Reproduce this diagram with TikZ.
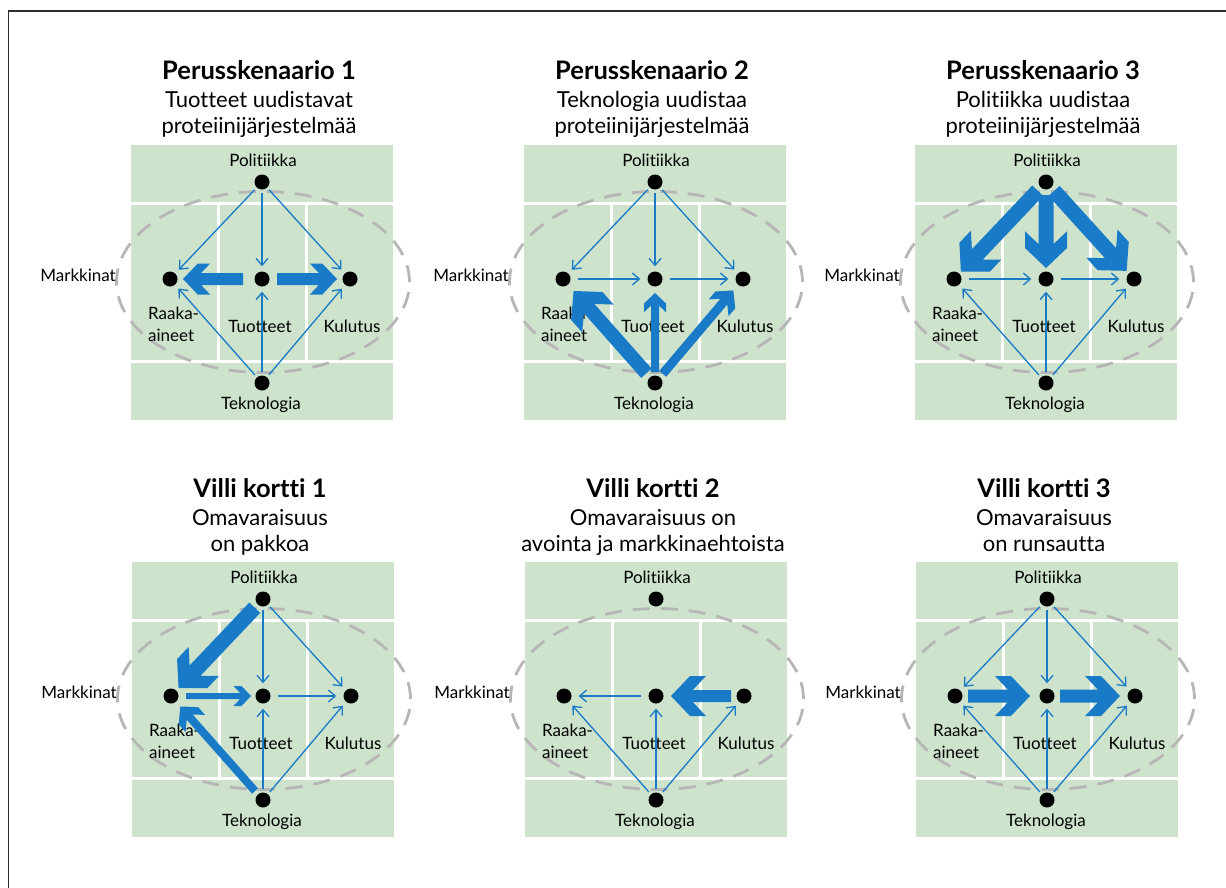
\documentclass[tikz,border=0pt]{standalone}
\usepackage{fontspec}
\setmainfont{Lato}[Ligatures={NoCommon}]
\usetikzlibrary{calc,arrows.meta}

\definecolor{paneltint}{RGB}{205,227,204}
\definecolor{flowblue}{RGB}{25,122,200}
\definecolor{ringgrey}{RGB}{182,182,182}
\definecolor{framegrey}{RGB}{45,45,45}

\tikzset{
  dot/.style={circle, fill=black, minimum size=15pt, inner sep=0pt},
  lbl/.style={font=\fontsize{17}{20}\selectfont, inner sep=0pt, anchor=base},
  ttl/.style={font=\fontsize{25.5}{30}\selectfont\bfseries, inner sep=0pt, anchor=base},
  sub/.style={font=\fontsize{22}{26}\selectfont, inner sep=0pt, anchor=base},
  flow/.style={draw=flowblue, line width=1.3pt, -{Straight Barb[length=7pt,width=12pt]},
    shorten <=3pt, shorten >=5pt},
  flowh/.style={flow, shorten <=7pt, shorten >=7pt},
  fatflow/.style={fill=flowblue},
  ring/.style={draw=ringgrey, line width=2.8pt, dash pattern=on 17pt off 11pt},
  divider/.style={draw=white, line width=3pt},
  frame/.style={draw=framegrey, line width=1.5pt},
}

% one scenario panel: #1 name prefix, #2/#3 top-left corner of the green field,
% #4 heading, #5/#6 the two lines below it
\newcommand\scenpanel[6]{%
  \fill[paneltint] (#2,#3) rectangle ++(262,275);
  \draw[divider] (#2,#3+58.5) -- ++(262,0);
  \draw[divider] (#2,#3+216.5) -- ++(262,0);
  \draw[divider] (#2+87.5,#3+58.5) -- (#2+87.5,#3+216.5);
  \draw[divider] (#2+175.5,#3+58.5) -- (#2+175.5,#3+216.5);
  \draw[ring] (#2+132,#3+137) ellipse [x radius=146.5pt, y radius=90.5pt];
  \node[ttl] (#1-title) at (#2+128,#3-65) {#4};
  \node[sub] (#1-sub1) at (#2+128,#3-37) {#5};
  \node[sub] (#1-sub2) at (#2+128,#3-11) {#6};
  \node[lbl] (#1-lpol) at (#2+132,#3+21) {Politiikka};
  \node[lbl] (#1-ltek) at (#2+130,#3+264) {Teknologia};
  \node[lbl, anchor=base east] (#1-lmar) at (#2-15,#3+136) {Markkinat};
  \node[lbl, anchor=base west] (#1-lraa) at (#2+17,#3+174) {Raaka-};
  \node[lbl, anchor=base west] (#1-lain) at (#2+17,#3+196) {aineet};
  \node[lbl] (#1-ltuo) at (#2+129,#3+187) {Tuotteet};
  \node[lbl] (#1-lkul) at (#2+221,#3+187) {Kulutus};
  \node[dot] (#1-pol) at (#2+131,#3+37) {};
  \node[dot] (#1-raa) at (#2+39,#3+134) {};
  \node[dot] (#1-tuo) at (#2+131,#3+134) {};
  \node[dot] (#1-kul) at (#2+219,#3+134) {};
  \node[dot] (#1-tek) at (#2+131,#3+238) {};
}

% broad arrow with a chevron head: #1 from, #2 to, #3/#4 gaps at both ends,
% #5 half width of the shaft, #6 half width of the head
\newcommand\fatflow[6]{%
  \pgfmathsetmacro\fhA{0.95*#6}%
  \pgfmathsetmacro\fhB{1.75*#6}%
  \pgfmathsetmacro\fhN{1.75*#6-0.95*(#6-#5)}%
  \path ($(#1.center)!#3pt!(#2.center)$) coordinate (fa-s)
        ($(#2.center)!#4pt!(#1.center)$) coordinate (fa-t);
  \fill[fatflow] ($(fa-s)!{#5pt}!90:(fa-t)$)
    -- ($(fa-t)!{\fhN pt}!(fa-s)!{#5pt}!90:(fa-t)$)
    -- ($(fa-t)!{\fhB pt}!(fa-s)!{#6pt}!90:(fa-t)$)
    -- ($(fa-t)!{\fhA pt}!(fa-s)!{#6pt}!90:(fa-t)$)
    -- (fa-t)
    -- ($(fa-t)!{\fhA pt}!(fa-s)!{#6pt}!-90:(fa-t)$)
    -- ($(fa-t)!{\fhB pt}!(fa-s)!{#6pt}!-90:(fa-t)$)
    -- ($(fa-t)!{\fhN pt}!(fa-s)!{#5pt}!-90:(fa-t)$)
    -- ($(fa-s)!{#5pt}!-90:(fa-t)$) -- cycle;
}

\begin{document}
\begin{tikzpicture}[x=1pt,y=-1pt]
\useasboundingbox (0,0) rectangle (1226,888);
\draw[frame] (8.5,888) -- (8.5,11) -- (1226,11);

% ---------- upper row ----------
\scenpanel{a}{131}{145}{Perusskenaario 1}{Tuotteet uudistavat}{proteiinijärjestelmää}
\draw[flow] (a-pol) -- (a-raa);
\draw[flow] (a-pol) -- (a-tuo);
\draw[flow] (a-pol) -- (a-kul);
\draw[flow] (a-tek) -- (a-raa);
\draw[flow] (a-tek) -- (a-tuo);
\draw[flow] (a-tek) -- (a-kul);
\fatflow{a-tuo}{a-raa}{19}{13}{6}{15.5}
\fatflow{a-tuo}{a-kul}{15}{13}{6}{15.5}

\scenpanel{b}{524}{145}{Perusskenaario 2}{Teknologia uudistaa}{proteiinijärjestelmää}
\draw[flow] (b-pol) -- (b-raa);
\draw[flow] (b-pol) -- (b-tuo);
\draw[flow] (b-pol) -- (b-kul);
\draw[flowh] (b-raa) -- (b-tuo);
\draw[flowh] (b-tuo) -- (b-kul);
\fatflow{b-tek}{b-raa}{13}{16}{7}{21}
\fatflow{b-tek}{b-tuo}{11}{14}{4}{11}
\fatflow{b-tek}{b-kul}{12}{15}{4.5}{13}

\scenpanel{c}{915}{145}{Perusskenaario 3}{Politiikka uudistaa}{proteiinijärjestelmää}
\draw[flowh] (c-raa) -- (c-tuo);
\draw[flowh] (c-tuo) -- (c-kul);
\draw[flow] (c-tek) -- (c-raa);
\draw[flow] (c-tek) -- (c-tuo);
\draw[flow] (c-tek) -- (c-kul);
\fatflow{c-pol}{c-raa}{12}{10}{7.5}{21}
\fatflow{c-pol}{c-tuo}{13}{11}{7.5}{21}
\fatflow{c-pol}{c-kul}{12}{11}{7.5}{21}

% ---------- lower row ----------
\scenpanel{d}{132}{562}{Villi kortti 1}{Omavaraisuus}{on pakkoa}
\draw[flow] (d-pol) -- (d-tuo);
\draw[flow] (d-pol) -- (d-kul);
\draw[flowh] (d-tuo) -- (d-kul);
\draw[flow] (d-tek) -- (d-tuo);
\draw[flow] (d-tek) -- (d-kul);
\fatflow{d-pol}{d-raa}{12}{11}{7.5}{21}
\fatflow{d-raa}{d-tuo}{15}{12}{3}{10}
\fatflow{d-tek}{d-raa}{12}{14}{4}{13}

\scenpanel{e}{525}{562}{Villi kortti 2}{Omavaraisuus on}{avointa ja markkinaehtoista}
\draw[flowh] (e-tuo) -- (e-raa);
\draw[flow] (e-tek) -- (e-raa);
\draw[flow] (e-tek) -- (e-tuo);
\draw[flow] (e-tek) -- (e-kul);
\fatflow{e-kul}{e-tuo}{13}{15}{6}{20}

\scenpanel{f}{916}{562}{Villi kortti 3}{Omavaraisuus}{on runsautta}
\draw[flow] (f-pol) -- (f-raa);
\draw[flow] (f-pol) -- (f-tuo);
\draw[flow] (f-pol) -- (f-kul);
\draw[flow] (f-tek) -- (f-raa);
\draw[flow] (f-tek) -- (f-tuo);
\draw[flow] (f-tek) -- (f-kul);
\fatflow{f-raa}{f-tuo}{13}{17}{6.5}{20}
\fatflow{f-tuo}{f-kul}{13}{15}{6.5}{20}
\end{tikzpicture}
\end{document}
